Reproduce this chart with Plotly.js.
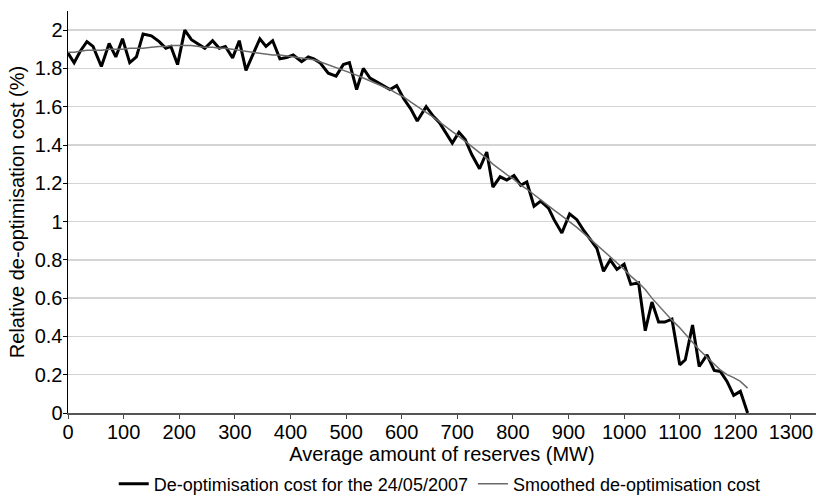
<!DOCTYPE html>
<html>
<head>
<meta charset="utf-8">
<script src="https://cdn.plot.ly/plotly-3.0.1.min.js"></script>
<style>html,body{margin:0;padding:0;background:#fff;}#chart{width:816px;height:500px;}</style>
</head>
<body>
<div id="chart"></div>
<script>
// Average amount of reserves (MW)
const reservesMW = [0, 11, 22, 34, 45, 60, 74, 86, 98, 111, 123, 135, 150, 164, 176, 185, 197, 210, 222, 235,
  246, 260, 272, 283, 296, 308, 320, 332, 345, 356, 368, 381, 393, 405, 420, 432, 442, 453, 468, 482,
  495, 506, 519, 531, 543, 555, 567, 579, 591, 604, 616, 628, 644, 657, 668, 678, 691, 703, 714, 726,
  740, 753, 764, 777, 789, 802, 814, 825, 838, 850, 864, 874, 888, 902, 915, 927, 939, 951, 963, 975,
  987, 1000, 1012, 1026, 1038, 1050, 1062, 1073, 1086, 1100, 1110, 1123, 1135, 1149, 1162, 1173, 1185, 1197, 1209, 1222];

// De-optimisation cost for the 24/05/2007 (%)
const costDay = [1.88, 1.83, 1.89, 1.94, 1.915, 1.81, 1.93, 1.86, 1.955, 1.83, 1.86, 1.98, 1.97, 1.94, 1.905, 1.915, 1.82, 2.0, 1.95, 1.925,
  1.905, 1.945, 1.905, 1.915, 1.855, 1.945, 1.79, 1.87, 1.955, 1.915, 1.945, 1.85, 1.857, 1.87, 1.835, 1.86, 1.85, 1.83, 1.775, 1.76,
  1.82, 1.83, 1.69, 1.80, 1.75, 1.73, 1.71, 1.69, 1.71, 1.64, 1.59, 1.525, 1.60, 1.55, 1.516, 1.47, 1.41, 1.467, 1.43, 1.35,
  1.276, 1.363, 1.18, 1.234, 1.217, 1.24, 1.19, 1.207, 1.08, 1.107, 1.07, 1.01, 0.94, 1.04, 1.01, 0.955, 0.905, 0.86, 0.74, 0.80,
  0.75, 0.778, 0.672, 0.68, 0.43, 0.58, 0.475, 0.475, 0.49, 0.252, 0.278, 0.46, 0.243, 0.304, 0.222, 0.217, 0.165, 0.092, 0.113, 0.0];

// Smoothed de-optimisation cost (%)
const costSmoothed = [1.885, 1.885, 1.89, 1.895, 1.895, 1.895, 1.9, 1.9, 1.9, 1.905, 1.905, 1.905, 1.91, 1.915, 1.915, 1.92, 1.92, 1.92, 1.92, 1.915,
  1.91, 1.91, 1.905, 1.905, 1.9, 1.895, 1.89, 1.885, 1.88, 1.875, 1.87, 1.87, 1.865, 1.86, 1.855, 1.85, 1.845, 1.835, 1.82, 1.805,
  1.79, 1.78, 1.765, 1.75, 1.735, 1.72, 1.705, 1.69, 1.67, 1.65, 1.625, 1.6, 1.57, 1.545, 1.52, 1.495, 1.47, 1.445, 1.42, 1.39,
  1.36, 1.33, 1.3, 1.27, 1.245, 1.22, 1.19, 1.17, 1.14, 1.115, 1.085, 1.06, 1.03, 1.0, 0.97, 0.94, 0.91, 0.88, 0.85, 0.82,
  0.785, 0.75, 0.715, 0.68, 0.645, 0.6, 0.56, 0.525, 0.485, 0.445, 0.41, 0.37, 0.33, 0.29, 0.255, 0.225, 0.2, 0.185, 0.165, 0.13];

const xTicks = [0, 100, 200, 300, 400, 500, 600, 700, 800, 900, 1000, 1100, 1200, 1300];
const yTicks = [0, 0.2, 0.4, 0.6, 0.8, 1, 1.2, 1.4, 1.6, 1.8, 2];
const yTickText = ['0', '0.2', '0.4', '0.6', '0.8', '1', '1.2', '1.4', '1.6', '1.8', '2'];

const sans = '"Liberation Sans", Arial, sans-serif';

const traces = [
  {
    x: reservesMW, y: costDay, type: 'scatter', mode: 'lines',
    name: 'De-optimisation cost for the 24/05/2007',
    line: {color: '#000000', width: 3}
  },
  {
    x: reservesMW, y: costSmoothed, type: 'scatter', mode: 'lines',
    name: 'Smoothed de-optimisation cost',
    line: {color: '#6a6a6a', width: 1.5}
  }
];

const layout = {
  width: 816, height: 500,
  margin: {l: 68, r: 0, t: 11, b: 87},
  paper_bgcolor: '#ffffff', plot_bgcolor: '#ffffff',
  showlegend: true,
  legend: {
    orientation: 'h', x: 0.497, xanchor: 'center',
    yref: 'container', y: 0.032, yanchor: 'middle',
    font: {family: sans, size: 18, color: '#000'},
    itemwidth: 30, bgcolor: 'rgba(0,0,0,0)', tracegroupgap: 0
  },
  xaxis: {
    range: [0, 1345], tickmode: 'array', tickvals: xTicks,
    ticks: 'outside', ticklen: 4, tickcolor: '#444', tickwidth: 1,
    showgrid: false, zeroline: false,
    showline: true, linecolor: '#555', linewidth: 2,
    tickfont: {family: sans, size: 20, color: '#000'},
    ticklabelstandoff: -4,
    title: {text: 'Average amount of reserves (MW)', font: {family: sans, size: 20, color: '#000'}, standoff: 4},
    automargin: false
  },
  yaxis: {
    range: [0, 2.1], tickmode: 'array', tickvals: yTicks, ticktext: yTickText,
    ticks: 'outside', ticklen: 4, tickcolor: '#000', tickwidth: 1,
    showgrid: true, gridcolor: '#d4d4d4', gridwidth: 1.5,
    zeroline: false,
    showline: true, linecolor: '#000', linewidth: 1.5,
    tickfont: {family: sans, size: 20, color: '#000'},
    ticklabelstandoff: -4,
    title: {text: 'Relative de-optimisation cost (%)', font: {family: sans, size: 20, color: '#000'}, standoff: 4},
    automargin: false
  }
};

Plotly.newPlot('chart', traces, layout, {staticPlot: true, displayModeBar: false});
</script>
</body>
</html>
